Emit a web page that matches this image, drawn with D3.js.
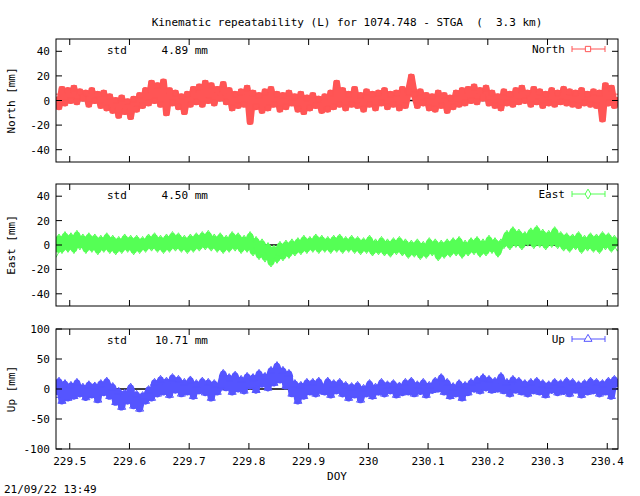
<!DOCTYPE html>
<html><head><meta charset="utf-8">
<script src="https://cdn.jsdelivr.net/npm/d3@7"></script>
<style>body{margin:0;background:#fff}svg{display:block}text{font-family:"DejaVu Sans Mono",monospace;font-size:11px;fill:#000;white-space:pre}</style>
</head><body>
<script>
const t0 = 229.477, dt = 0.005;
const xTicks = [229.5,229.6,229.7,229.8,229.9,230,230.1,230.2,230.3,230.4];
const northVals = [3,-5,9,-2,8,0,10,-1,7,2, 6,-3,8,0,5,-4,6,-6,3,-8, 0,-12,2,-9,-1,-13,1,-7,4,-4, 8,-2,14,0,12,-3,15,-10,8,-2, 6,-5,3,-9,5,-3,9,-1,11,-3, 14,0,12,-2,9,2,13,-1,8,-6, 5,-4,7,-3,10,-17,6,-5,4,-8, 7,-6,9,-3,5,-7,4,-5,6,-2, 3,-7,5,-9,2,-6,4,-4,1,-8, 3,-7,6,-5,14,-3,8,-6,5,-3, 9,-4,4,-7,7,-3,5,-6,6,-2, 8,-5,5,-3,6,-6,9,-4,7,19, 5,-4,7,-2,4,-6,3,-7,6,-4, 4,-8,2,-5,6,-3,8,-2,9,0, 11,-1,8,2,10,-2,6,-4,3,-6, 7,-2,5,-3,8,-1,10,0,6,-3, 9,-1,7,-4,5,-2,8,-3,6,-1, 9,-2,7,-3,6,-4,8,-2,5,-3, 7,-4,6,-15,12,-2,10,-4,3];
const eastVals = [-6,5,-3,7,-2,6,-3,8,0,5, -3,6,-2,5,-4,4,-2,6,-3,4, -4,3,-3,5,-2,4,-4,4,-3,3, -2,5,-1,6,-2,4,-3,5,-2,7, -1,6,-2,4,-3,5,-2,6,-1,7, 0,8,-1,5,-2,6,-3,4,-2,7, -1,6,-3,4,-2,7,-5,3,-8,1, -10,-2,-14,-4,-11,-1,-9,0,-7,1, -5,2,-4,4,-3,3,-2,5,-3,4, -2,3,-3,4,-2,5,-3,3,-2,4, -3,3,-4,2,-3,4,-5,1,-4,3, -5,1,-6,2,-4,3,-5,1,-7,0, -6,1,-8,-1,-7,2,-5,1,-9,0, -7,1,-6,2,-5,3,-7,0,-5,2, -4,3,-6,1,-5,4,-3,2,-6,1, 1,8,0,11,2,9,0,7,3,10, 1,12,2,9,0,8,2,11,1,7, -1,6,-2,5,0,7,-3,4,-1,6, -2,5,-3,7,0,6,-2,4,-1];
const upVals = [-10,12,-20,8,-15,5,-12,10,-8,2, -14,6,-10,4,-18,8,-6,12,-12,3, -22,-5,-30,-8,-20,2,-28,-10,-33,-12, -20,-2,-15,10,-8,15,-5,12,-10,18, -2,15,-8,10,-5,14,-12,8,-3,12, -6,10,-15,8,-5, 5,25,2,18,-5,22,0,15,-3,20, 5,18,-2,25,8,20,2,30,10,38, 15,30,5,25,-8,8,-20,5,-12,10, -5,10,-8,12,-3, -5,12,-10,8,-3,10,-8,5,-15,3, -10,5,-18,0,-8,8,-12,2,-5,10, -8,6,-3,8,-10,4,-6,10,-5,12, -8,6,-4,10,-10,5,-2,12,0,18, -5,10,-12,3,-8,8,-15,5,-6,10, 0,14,-3,18,2,15,-2,12,0,20, -3,10,-8,15,-2,12,-5,8,-8,10, -3,12,-5,8,-10,6,-2,10,-6,8, -4,12,-8,10,-2,6,-10,8,-5,12, -3,10,-8,8,-5,12,-12,15,3];
const panels = [
 {name:"North", label:"North [mm]", vals:northVals, std:"4.89", dom:[-50,50], ticks:[-40,-20,0,20,40], top:39, bot:162, color:"#ff5555", sym:"square"},
 {name:"East", label:"East [mm]", vals:eastVals, std:"4.50", dom:[-50,50], ticks:[-40,-20,0,20,40], top:184, bot:306, color:"#55ff55", sym:"diamond"},
 {name:"Up", label:"Up [mm]", vals:upVals, std:"10.71", dom:[-100,100], ticks:[-100,-50,0,50,100], top:329, bot:449, color:"#5555ff", sym:"triangle"}
];
const W=640,H=496,L=56,R=618;
const svg=d3.select("body").append("svg").attr("width",W).attr("height",H);
const x=d3.scaleLinear().domain([229.477,230.418]).range([L,R]);
svg.append("text").attr("x",347).attr("y",26).attr("text-anchor","middle").text("Kinematic repeatability (L) for 1074.748 - STGA  (  3.3 km)");
const symMap={square:d3.symbolSquare,diamond:d3.symbolDiamond,triangle:d3.symbolTriangle};
panels.forEach((p,pi)=>{
  const y=d3.scaleLinear().domain(p.dom).range([p.bot,p.top]);
  const g=svg.append("g");
  const clipId="c"+pi;
  svg.append("clipPath").attr("id",clipId).append("rect").attr("x",L).attr("y",p.top).attr("width",R-L).attr("height",p.bot-p.top);
  const pts=p.vals.map((v,i)=>[t0+dt*i,v]);
  const dg=g.append("g").attr("clip-path",`url(#${clipId})`);
  dg.append("line").attr("x1",L).attr("x2",R).attr("y1",y(0)).attr("y2",y(0)).attr("stroke","#000").attr("stroke-width",1.5);
  const ln=d3.line().x(d=>x(d[0])).y(d=>y(d[1]));
  dg.append("path").attr("d",ln(pts)).attr("fill","none").attr("stroke",p.color).attr("stroke-width",7).attr("stroke-linejoin","round");
  const sym=d3.symbol().type(symMap[p.sym]).size(28);
  dg.selectAll("path.m").data(pts).join("path").attr("class","m").attr("d",sym).attr("transform",d=>`translate(${x(d[0])},${y(d[1])})`).attr("fill","none").attr("stroke",p.color);
  g.append("rect").attr("x",L).attr("y",p.top).attr("width",R-L).attr("height",p.bot-p.top).attr("fill","none").attr("stroke","#000");
  p.ticks.forEach(t=>{
    g.append("line").attr("x1",L).attr("x2",L+6).attr("y1",y(t)).attr("y2",y(t)).attr("stroke","#000");
    g.append("line").attr("x1",R).attr("x2",R-6).attr("y1",y(t)).attr("y2",y(t)).attr("stroke","#000");
    g.append("text").attr("x",L-6).attr("y",y(t)+4).attr("text-anchor","end").text(t);
  });
  xTicks.forEach(t=>{
    g.append("line").attr("x1",x(t)).attr("x2",x(t)).attr("y1",p.bot).attr("y2",p.bot-6).attr("stroke","#000");
    g.append("line").attr("x1",x(t)).attr("x2",x(t)).attr("y1",p.top).attr("y2",p.top+6).attr("stroke","#000");
  });
  g.append("text").attr("transform",`translate(15,${(p.top+p.bot)/2}) rotate(-90)`).attr("text-anchor","middle").text(p.label);
  g.append("text").attr("x",107).attr("y",p.top+15).text("std");
  g.append("text").attr("x",155).attr("y",p.top+15).text((p.std.length>4?"":" ")+p.std+" mm");
  g.append("text").attr("x",565).attr("y",p.top+14).attr("text-anchor","end").text(p.name);
  const ly=p.top+10;
  g.append("line").attr("x1",572).attr("x2",605).attr("y1",ly).attr("y2",ly).attr("stroke",p.color);
  [572,605].forEach(cx=>g.append("line").attr("x1",cx).attr("x2",cx).attr("y1",ly-3).attr("y2",ly+3).attr("stroke",p.color));
  g.append("path").attr("d",sym).attr("transform",`translate(588,${ly})`).attr("fill","#fff").attr("stroke",p.color);
  if(pi===2){
    xTicks.forEach(t=>g.append("text").attr("x",x(t)).attr("y",p.bot+16).attr("text-anchor","middle").text(t));
    g.append("text").attr("x",337).attr("y",480).attr("text-anchor","middle").text("DOY");
  }
});
svg.append("text").attr("x",4).attr("y",493).text("21/09/22 13:49");
</script>
</body></html>
